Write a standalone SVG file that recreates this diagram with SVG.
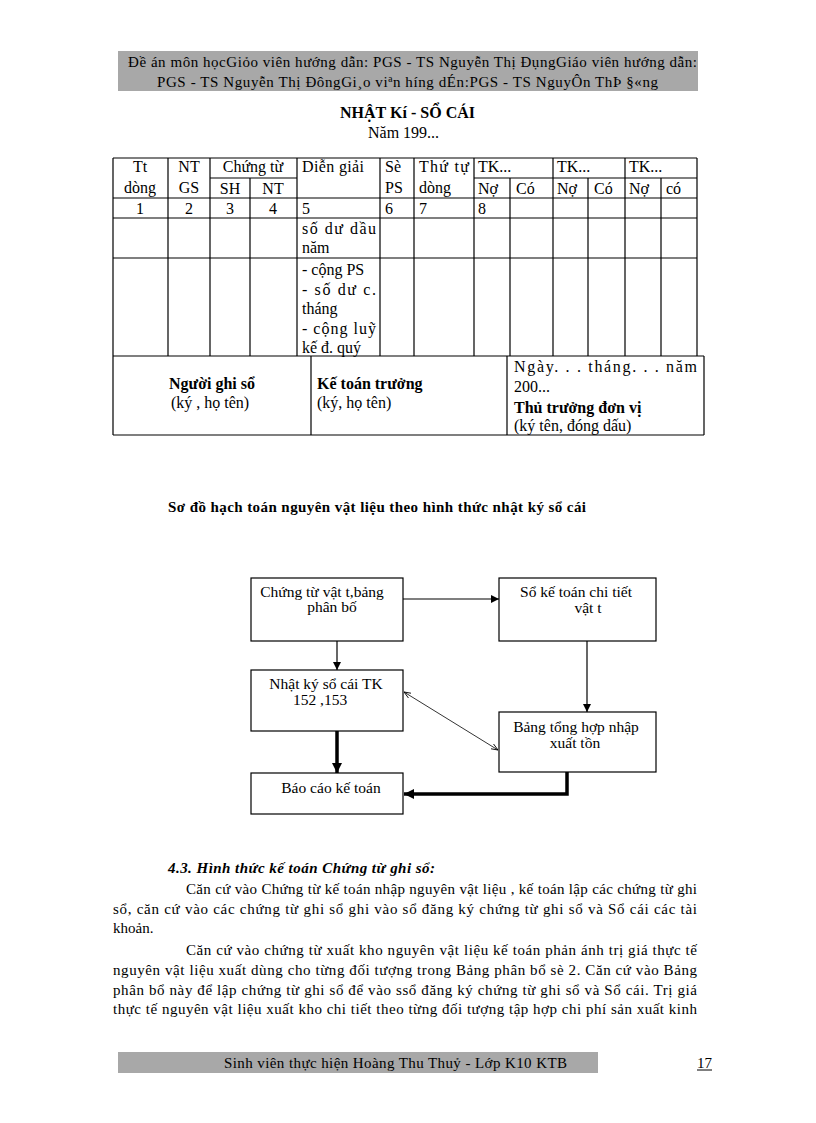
<svg xmlns="http://www.w3.org/2000/svg" width="816" height="1123" viewBox="0 0 816 1123">
<style>
text{font-family:"Liberation Serif","Times New Roman",serif;font-size:15px;fill:#000}
.t{font-size:16px}
.n{font-size:15.5px}
.b{font-weight:bold}
.bi{font-weight:bold;font-style:italic}
.c{text-anchor:middle}
.tl{stroke:#000;stroke-width:1.2;fill:none}
.box{fill:#fff;stroke:#000;stroke-width:1.2}
.thin{stroke:#000;stroke-width:1.2;fill:none}
.thick{stroke:#000;stroke-width:3.5;fill:none}
.hair{stroke:#000;stroke-width:0.8;fill:none}
.band{fill:#a8a8a8}
</style>
<defs>
<marker id="ah" viewBox="0 0 10 10" refX="10" refY="5" markerWidth="8" markerHeight="8" markerUnits="userSpaceOnUse" orient="auto">
<path d="M0,0 L10,5 L0,10 z" fill="#000"/>
</marker>
<marker id="ahT" viewBox="0 0 10 10" refX="10" refY="5" markerWidth="10" markerHeight="10" markerUnits="userSpaceOnUse" orient="auto">
<path d="M0,0 L10,5 L0,10 z" fill="#000"/>
</marker>
<marker id="ahO" viewBox="0 0 10 10" refX="10" refY="5" markerWidth="7" markerHeight="7" markerUnits="userSpaceOnUse" orient="auto-start-reverse">
<path d="M0,1 L10,5 L0,9" fill="none" stroke="#000" stroke-width="1.2"/>
</marker>
</defs>
<rect width="816" height="1123" fill="#fff"/>

<g id="header">
<rect class="band" x="118" y="51" width="580" height="40"/>
<text x="128" y="67" textLength="569" lengthAdjust="spacing">Đề án môn họcGiỏo viên hướng dẫn: PGS - TS Nguyễn Thị ĐụngGiáo  viên hướng dẫn:</text>
<text x="157" y="87" textLength="501" lengthAdjust="spacing">PGS - TS Nguyễn Thị ĐôngGi¸o viªn híng  dÉn:PGS - TS  NguyÔn ThÞ §«ng</text>
</g>

<g id="title">
<text class="b t" x="340" y="118" textLength="135" lengthAdjust="spacing">NHẬT Kí - SỔ CÁI</text>
<text class="t" x="368" y="138">Năm 199...</text>
</g>

<g id="table">
<path class="tl" d="M113,158 H697 M210,178 H297 M474,178 H697 M113,198 H697 M113,218 H697 M113,258 H697 M113,356 H704 M113,435 H704
M113,158 V435 M168,158 V356 M210,158 V356 M250,178 V356 M297,158 V356 M380,158 V356 M414,158 V356 M474,158 V356 M510,178 V356 M553,158 V356 M588,178 V356 M625,158 V356 M661,178 V356 M697,158 V356
M311,356 V435 M507,356 V435 M704,356 V435"/>
<g class="t">
<text class="t c" x="140" y="172">Tt</text>
<text class="t c" x="140" y="193">dòng</text>
<text class="t c" x="189" y="172">NT</text>
<text class="t c" x="189" y="193">GS</text>
<text class="t c" x="253" y="172">Chứng từ</text>
<text class="t c" x="230" y="194">SH</text>
<text class="t c" x="273" y="194">NT</text>
<text class="t" x="302" y="172" textLength="62" lengthAdjust="spacing">Diễn giải</text>
<text class="t" x="385" y="172">Sè</text>
<text class="t" x="385" y="193">PS</text>
<text class="t" x="419" y="172" textLength="50" lengthAdjust="spacing">Thứ tự</text>
<text class="t" x="419" y="193">dòng</text>
<text class="t" x="478" y="172">TK...</text>
<text class="t" x="557" y="172">TK...</text>
<text class="t" x="629" y="172">TK...</text>
<text class="t" x="478" y="194">Nợ</text>
<text class="t" x="516" y="194">Có</text>
<text class="t" x="557" y="194">Nợ</text>
<text class="t" x="594" y="194">Có</text>
<text class="t" x="629" y="194">Nợ</text>
<text class="t" x="666" y="194">có</text>
<text class="t c" x="140" y="214">1</text>
<text class="t c" x="189" y="214">2</text>
<text class="t c" x="230" y="214">3</text>
<text class="t c" x="273" y="214">4</text>
<text class="t" x="302" y="214">5</text>
<text class="t" x="385" y="214">6</text>
<text class="t" x="419" y="214">7</text>
<text class="t" x="478" y="214">8</text>
<text class="t" x="302" y="234" textLength="74" lengthAdjust="spacing">số dư dầu</text>
<text class="t" x="302" y="253">năm</text>
<text class="t" x="302" y="275">- cộng PS</text>
<text class="t" x="302" y="295" textLength="74" lengthAdjust="spacing">- số dư c.</text>
<text class="t" x="302" y="314">tháng</text>
<text class="t" x="302" y="334" textLength="74" lengthAdjust="spacing">- cộng luỹ</text>
<text class="t" x="302" y="353">kế đ. quý</text>
</g>
<text class="b t c" x="212" y="389">Người ghi sổ</text>
<text class="t c" x="210" y="408">(ký , họ tên)</text>
<text class="b t" x="317" y="389">Kế toán trưởng</text>
<text class="t" x="317" y="408">(ký, họ tên)</text>
<text class="t" x="514" y="372" textLength="183" lengthAdjust="spacing">Ngày.   .  .  tháng.   .  .  năm</text>
<text class="t" x="514" y="392">200...</text>
<text class="b t" x="514" y="413">Thủ trưởng đơn vị</text>
<text class="t" x="514" y="431">(ký tên, đóng dấu)</text>
</g>

<g id="subtitle">
<text class="b" x="168" y="512" textLength="418" lengthAdjust="spacing">Sơ đồ hạch toán nguyên vật liệu theo hình thức nhật ký sổ cái</text>
</g>

<g id="connectors">
<line class="thin" x1="403" y1="599" x2="499" y2="599" marker-end="url(#ah)"/>
<line class="thin" x1="337" y1="641" x2="337" y2="670" marker-end="url(#ah)"/>
<line class="thin" x1="587" y1="641" x2="587" y2="712" marker-end="url(#ah)"/>
<line class="hair" x1="404" y1="692" x2="498" y2="750" marker-start="url(#ahO)" marker-end="url(#ahO)"/>
<line class="thick" x1="337" y1="731" x2="337" y2="773" marker-end="url(#ahT)"/>
<polyline class="thick" points="567,772 567,794 404,794" marker-end="url(#ahT)"/>
</g>

<g id="node-chungtu">
<rect class="box" x="251" y="578" width="152" height="63"/>
<text class="n c" x="322" y="597">Chứng từ vật t,bảng</text>
<text class="n c" x="332" y="612">phân bố</text>
</g>
<g id="node-sokt">
<rect class="box" x="499" y="578" width="157" height="63"/>
<text class="n c" x="576" y="597">Sổ kế toán chi tiết</text>
<text class="n c" x="588" y="613">vật t</text>
</g>
<g id="node-nhatky">
<rect class="box" x="251" y="670" width="152" height="61"/>
<text class="n c" x="326" y="689">Nhật ký sổ cái TK</text>
<text class="n c" x="320" y="705">152 ,153</text>
</g>
<g id="node-bangth">
<rect class="box" x="499" y="712" width="157" height="60"/>
<text class="n c" x="576" y="732">Bảng tổng hợp nhập</text>
<text class="n c" x="575" y="748">xuất tồn</text>
</g>
<g id="node-baocao">
<rect class="box" x="251" y="773" width="152" height="41"/>
<text class="n c" x="331" y="793">Báo cáo kế toán</text>
</g>

<g id="body">
<text class="bi" x="168" y="873" textLength="267" lengthAdjust="spacing">4.3. Hình thức kế toán Chứng từ ghi sổ:</text>
<text x="186" y="894" textLength="511" lengthAdjust="spacing">Căn cứ vào Chứng từ kế toán nhập nguyên  vật liệu , kế toán lập các chứng từ ghi</text>
<text x="113" y="914" textLength="584" lengthAdjust="spacing">sổ, căn cứ vào các chứng từ ghi sổ ghi vào sổ đăng ký chứng từ ghi sổ và Sổ cái các tài</text>
<text x="113" y="933">khoản.</text>
<text x="186" y="955" textLength="511" lengthAdjust="spacing">Căn cứ vào chứng từ xuất kho nguyên  vật liệu kế toán phản ánh trị giá thực tế</text>
<text x="113" y="975" textLength="584" lengthAdjust="spacing">nguyên  vật liệu xuất dùng cho từng đối tượng trong Bảng phân bổ sè 2. Căn cứ vào Bảng</text>
<text x="113" y="995" textLength="584" lengthAdjust="spacing">phân bổ này để lập chứng từ ghi sổ để vào ssổ đăng ký chứng từ ghi sổ và Sổ cái. Trị giá</text>
<text x="113" y="1014" textLength="584" lengthAdjust="spacing">thực tế nguyên  vật liệu xuất kho chi tiết theo từng đối tượng tập hợp chi phí sản xuất kinh</text>
</g>

<g id="footer">
<rect class="band" x="118" y="1052" width="480" height="21"/>
<text x="224" y="1068" textLength="343" lengthAdjust="spacing">Sinh viên thực hiện Hoàng Thu Thuỷ - Lớp K10 KTB</text>
<text x="697" y="1068">17</text>
<line x1="697" y1="1070" x2="712" y2="1070" stroke="#000" stroke-width="1"/>
</g>
</svg>
